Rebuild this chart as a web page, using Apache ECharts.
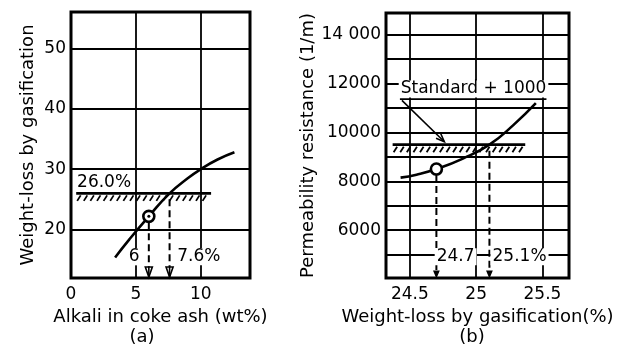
<!DOCTYPE html>
<html><head><meta charset="utf-8">
<script src="https://cdn.jsdelivr.net/npm/echarts@6/dist/echarts.min.js"></script>
<style>html,body{margin:0;padding:0;background:#fff}#c{width:620px;height:356px}</style>
</head><body><div id="c"></div><script>
// (a) alkali in coke ash vs. weight-loss by gasification
const alkaliCurve = [[3.4,15.4],[4.5,18.4],[6,22.2],[7.6,26.0],[9,28.5],[10,30],[11.3,31.6],[12.6,32.8]];
const alkaliPoint = [[6,22.2]];
const alkaliLimit = [[0.4,10.8,26.0]];
const alkaliDrops = [[6,22.2],[7.6,26.0]];
const alkaliXTicks = [0,5,10];
const alkaliYTicks = [20,30,40,50];
const alkaliNotes = [[2.55,27.8,'26.0%'],[4.87,15.5,'6'],[9.85,15.5,'7.6%']];

// (b) weight-loss by gasification vs. permeability resistance
const permCurve = [[24.43,8150],[24.55,8270],[24.7,8500],[24.9,8930],[25.1,9500],[25.28,10300],[25.45,11200]];
const permPoint = [[24.7,8500]];
const permLimit = [[24.37,25.37,9500]];
const permDrops = [[24.7,8500],[25.1,9500]];
const permXTicks = [24.5,25,25.5];
const permYGrid = [5000,6000,7000,8000,9000,10000,11000,12000,13000,14000];
const permYTicks = [6000,8000,10000,12000,14000];
const permNotes = [[24.98,11780,'Standard + 1000'],[24.845,4910,'24.7'],[25.327,4910,'25.1%']];
const permCallout = [[24.425,25.53,11360,24.44,11310,24.76,9620]];

const FONT = 'DejaVu Sans';

function hatchItem(params, api) {
  const a = api.coord([api.value(0), api.value(2)]);
  const b = api.coord([api.value(1), api.value(2)]);
  const kids = [{type:'line', shape:{x1:a[0],y1:a[1],x2:b[0],y2:b[1]}, style:{stroke:'#000',lineWidth:2.6}}];
  for (let x = a[0] + 1; x < b[0] - 3; x += 6.6) {
    kids.push({type:'line', shape:{x1:x, y1:a[1]+7.5, x2:x+3.5, y2:a[1]+2}, style:{stroke:'#000', lineWidth:1.8}});
  }
  return {type:'group', children:kids};
}

function dropItemFactory(openHead) {
  return function (params, api) {
    const top = api.coord([api.value(0), api.value(1)]);
    const bottom = params.coordSys.y + params.coordSys.height;
    const x = top[0];
    const headH = openHead ? 11 : 7;
    const kids = [{type:'line', shape:{x1:x, y1:top[1]+6, x2:x, y2:bottom-headH+2},
      style:{stroke:'#000', lineWidth:2, lineDash:[7,4]}}];
    if (openHead) {
      kids.push({type:'polygon', shape:{points:[[x-3.5,bottom-headH],[x+3.5,bottom-headH],[x,bottom-1]]},
        style:{fill:'#fff', stroke:'#000', lineWidth:1.6}});
      kids.push({type:'line', shape:{x1:x, y1:bottom-headH, x2:x, y2:bottom}, style:{stroke:'#000', lineWidth:1.6}});
    } else {
      kids.push({type:'polygon', shape:{points:[[x-2.5,bottom-headH],[x+2.5,bottom-headH],[x,bottom-1]]},
        style:{fill:'#000', stroke:'#000', lineWidth:1.2}});
    }
    return {type:'group', children:kids};
  };
}

function calloutItem(params, api) {
  const u0 = api.coord([api.value(0), api.value(2)]);
  const u1 = api.coord([api.value(1), api.value(2)]);
  const s = api.coord([api.value(3), api.value(4)]);
  const t = api.coord([api.value(5), api.value(6)]);
  const ang = Math.atan2(t[1]-s[1], t[0]-s[0]);
  const L = 9, w = 0.38;
  const h1 = [t[0]-L*Math.cos(ang-w), t[1]-L*Math.sin(ang-w)];
  const h2 = [t[0]-L*Math.cos(ang+w), t[1]-L*Math.sin(ang+w)];
  return {type:'group', children:[
    {type:'line', shape:{x1:u0[0],y1:u0[1],x2:u1[0],y2:u1[1]}, style:{stroke:'#000',lineWidth:1.8}},
    {type:'line', shape:{x1:s[0],y1:s[1],x2:t[0],y2:t[1]}, style:{stroke:'#000',lineWidth:1.6}},
    {type:'polyline', shape:{points:[h1,t,h2]}, style:{stroke:'#000',lineWidth:1.6,fill:null}}
  ]};
}

function notesSeries(notes, idx) {
  return {
    type:'scatter', xAxisIndex:idx, yAxisIndex:idx, symbolSize:0, silent:true, z:5,
    itemStyle:{opacity:1},
    data: notes.map(n => ({value:[n[0], n[1]], name:n[2]})),
    label:{show:true, position:'inside', formatter:'{b}', color:'#000', opacity:1,
      textBorderWidth:0, fontSize:17, fontFamily:FONT,
      backgroundColor:'#fff', padding:[0,2]}
  };
}

const axisText = {color:'#000', fontSize:17, fontFamily:FONT};
const nameText = {color:'#000', fontSize:18, fontFamily:FONT};
const split = {show:true, lineStyle:{color:'#000', width:1.8}};

const option = {
  animation:false,
  backgroundColor:'#fff',
  textStyle:{fontFamily:FONT},
  title:[
    {text:'(a)', left:137, top:323, textAlign:'center', textStyle:{fontSize:18, fontWeight:'normal', color:'#000', fontFamily:FONT}},
    {text:'(b)', left:467, top:323, textAlign:'center', textStyle:{fontSize:18, fontWeight:'normal', color:'#000', fontFamily:FONT}}
  ],
  grid:[
    {left:71, top:12, width:179, height:266, show:true, borderColor:'#000', borderWidth:3, backgroundColor:'transparent'},
    {left:386, top:13, width:183, height:265, show:true, borderColor:'#000', borderWidth:3, backgroundColor:'transparent'}
  ],
  xAxis:[
    {type:'value', gridIndex:0, min:0, max:13.8,
     name:'Alkali in coke ash (wt%)', nameLocation:'middle', nameGap:30, nameTextStyle:nameText,
     axisLine:{show:false}, axisTick:{show:false, customValues:alkaliXTicks},
     axisLabel:{customValues:alkaliXTicks, margin:8, ...axisText}, splitLine:split},
    {type:'value', gridIndex:1, min:24.32, max:25.7,
     name:'Weight-loss by gasification(%)', nameLocation:'middle', nameGap:30, nameTextStyle:nameText,
     axisLine:{show:false}, axisTick:{show:false, customValues:permXTicks},
     axisLabel:{customValues:permXTicks, margin:8, ...axisText}, splitLine:split}
  ],
  yAxis:[
    {type:'value', gridIndex:0, min:12, max:56,
     name:'Weight-loss by gasification', nameLocation:'middle', nameGap:34, nameTextStyle:nameText,
     axisLine:{show:false}, axisTick:{show:false, customValues:alkaliYTicks},
     axisLabel:{customValues:alkaliYTicks, margin:5, ...axisText}, splitLine:split},
    {type:'value', gridIndex:1, min:4040, max:14890,
     name:'Permeability resistance (1/m)', nameLocation:'middle', nameGap:57, nameTextStyle:nameText,
     axisLine:{show:false}, axisTick:{show:false, customValues:permYGrid},
     axisLabel:{customValues:permYTicks, margin:5, ...axisText,
       formatter: v => v === 14000 ? '14 000' : String(v)}, splitLine:split}
  ],
  series:[
    {type:'line', xAxisIndex:0, yAxisIndex:0, data:alkaliCurve, smooth:true, showSymbol:false,
     lineStyle:{color:'#000', width:2.6}, z:3},
    {type:'custom', xAxisIndex:0, yAxisIndex:0, data:alkaliLimit, renderItem:hatchItem, z:3},
    {type:'custom', xAxisIndex:0, yAxisIndex:0, data:alkaliDrops, renderItem:dropItemFactory(true), z:2},
    {type:'scatter', xAxisIndex:0, yAxisIndex:0, data:alkaliPoint, symbol:'circle', symbolSize:11,
     itemStyle:{color:'#fff', borderColor:'#000', borderWidth:2.6, opacity:1}, z:4},
    {type:'scatter', xAxisIndex:0, yAxisIndex:0, data:alkaliPoint, symbol:'circle', symbolSize:3,
     itemStyle:{color:'#000', opacity:1}, z:5},
    notesSeries(alkaliNotes, 0),

    {type:'line', xAxisIndex:1, yAxisIndex:1, data:permCurve, smooth:true, showSymbol:false,
     lineStyle:{color:'#000', width:2.6}, z:3},
    {type:'custom', xAxisIndex:1, yAxisIndex:1, data:permLimit, renderItem:hatchItem, z:3},
    {type:'custom', xAxisIndex:1, yAxisIndex:1, data:permDrops, renderItem:dropItemFactory(false), z:2},
    {type:'custom', xAxisIndex:1, yAxisIndex:1, data:permCallout, renderItem:calloutItem, z:3},
    {type:'scatter', xAxisIndex:1, yAxisIndex:1, data:permPoint, symbol:'circle', symbolSize:11,
     itemStyle:{color:'#fff', borderColor:'#000', borderWidth:2.6, opacity:1}, z:4},
    notesSeries(permNotes, 1)
  ]
};

const chart = echarts.init(document.getElementById('c'), null, {renderer:'canvas'});
chart.setOption(option);
</script></body></html>
